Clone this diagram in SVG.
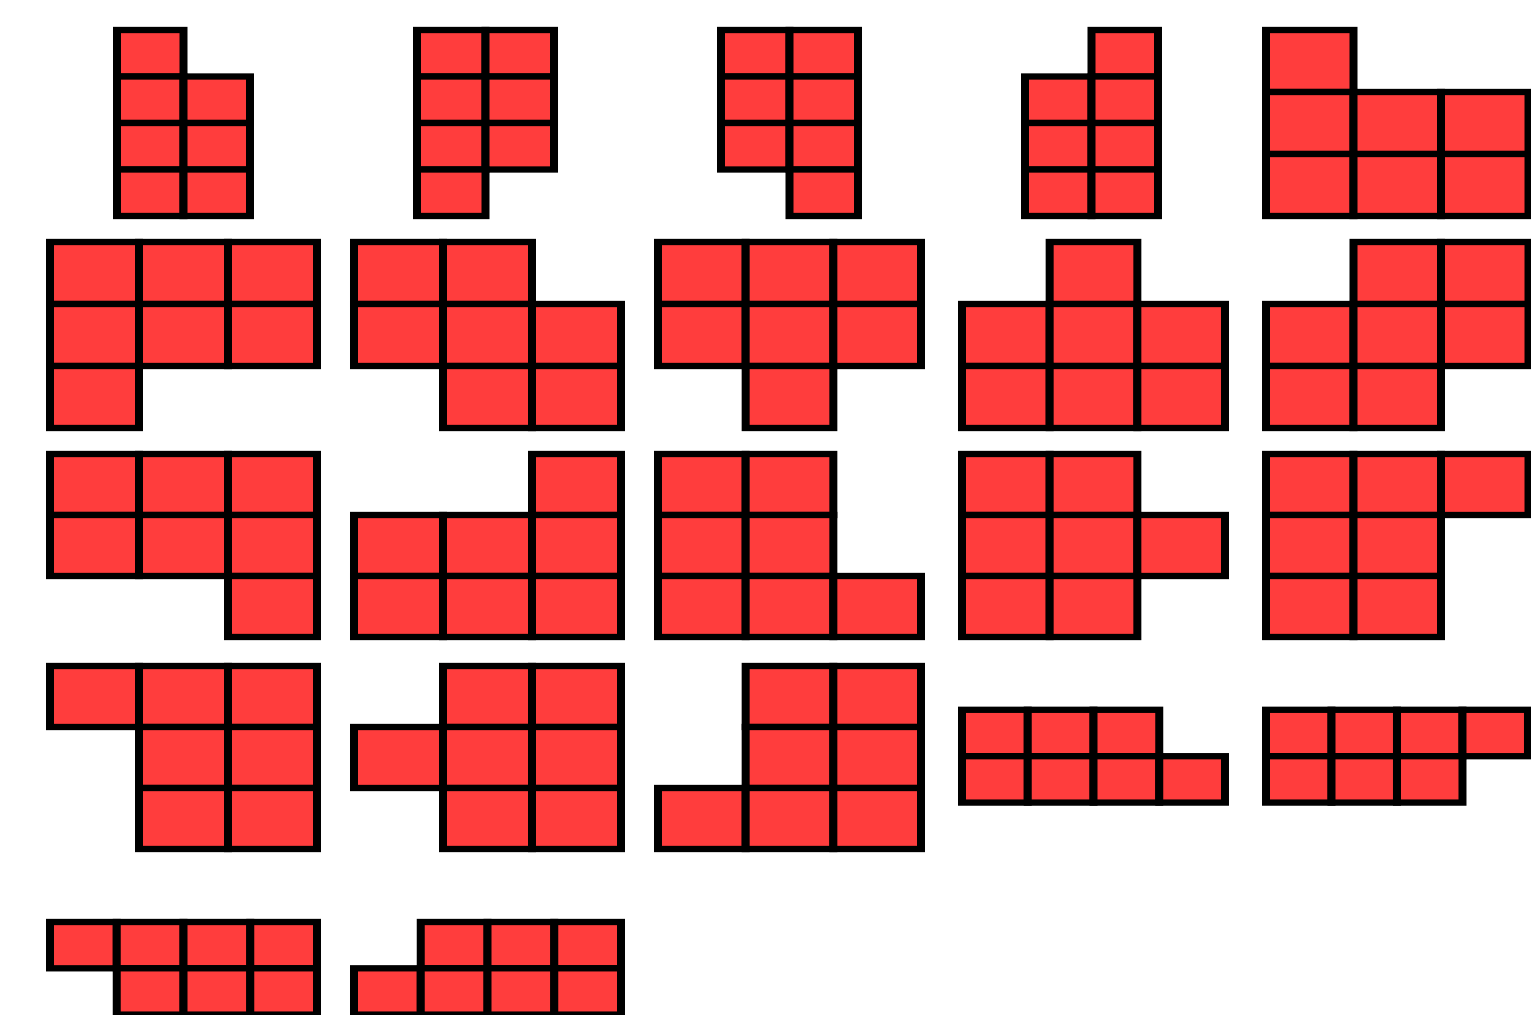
<svg xmlns="http://www.w3.org/2000/svg" width="1531" height="1015" viewBox="0 0 1531 1015">
<style>
rect.c{fill:#ff3d3d;stroke:#000;stroke-width:6.3}
</style>
<rect x="0" y="0" width="1531" height="1015" fill="#fff"/>
<!-- Row 1 -->
<g id="p1" transform="translate(117,30) scale(1.27,1)">
<rect class="c" x="0" y="0" width="52.36" height="46.5"/>
<rect class="c" x="0" y="46.5" width="52.36" height="46.5"/><rect class="c" x="52.36" y="46.5" width="52.36" height="46.5"/>
<rect class="c" x="0" y="93" width="52.36" height="46.5"/><rect class="c" x="52.36" y="93" width="52.36" height="46.5"/>
<rect class="c" x="0" y="139.5" width="52.36" height="46.5"/><rect class="c" x="52.36" y="139.5" width="52.36" height="46.5"/>
</g>
<g id="p2" transform="translate(417,30) scale(1.27,1)">
<rect class="c" x="0" y="0" width="53.94" height="46.5"/><rect class="c" x="53.94" y="0" width="53.94" height="46.5"/>
<rect class="c" x="0" y="46.5" width="53.94" height="46.5"/><rect class="c" x="53.94" y="46.5" width="53.94" height="46.5"/>
<rect class="c" x="0" y="93" width="53.94" height="46.5"/><rect class="c" x="53.94" y="93" width="53.94" height="46.5"/>
<rect class="c" x="0" y="139.5" width="53.94" height="46.5"/>
</g>
<g id="p3" transform="translate(721,30) scale(1.27,1)">
<rect class="c" x="0" y="0" width="53.94" height="46.5"/><rect class="c" x="53.94" y="0" width="53.94" height="46.5"/>
<rect class="c" x="0" y="46.5" width="53.94" height="46.5"/><rect class="c" x="53.94" y="46.5" width="53.94" height="46.5"/>
<rect class="c" x="0" y="93" width="53.94" height="46.5"/><rect class="c" x="53.94" y="93" width="53.94" height="46.5"/>
<rect class="c" x="53.94" y="139.5" width="53.94" height="46.5"/>
</g>
<g id="p4" transform="translate(1025,30) scale(1.27,1)">
<rect class="c" x="52.36" y="0" width="52.36" height="46.5"/>
<rect class="c" x="0" y="46.5" width="52.36" height="46.5"/><rect class="c" x="52.36" y="46.5" width="52.36" height="46.5"/>
<rect class="c" x="0" y="93" width="52.36" height="46.5"/><rect class="c" x="52.36" y="93" width="52.36" height="46.5"/>
<rect class="c" x="0" y="139.5" width="52.36" height="46.5"/><rect class="c" x="52.36" y="139.5" width="52.36" height="46.5"/>
</g>
<g id="p5" transform="translate(1266,30) scale(1.27,1)">
<rect class="c" x="0" y="0" width="68.9" height="62"/>
<rect class="c" x="0" y="62" width="68.9" height="62"/><rect class="c" x="68.9" y="62" width="68.9" height="62"/><rect class="c" x="137.8" y="62" width="68.9" height="62"/>
<rect class="c" x="0" y="124" width="68.9" height="62"/><rect class="c" x="68.9" y="124" width="68.9" height="62"/><rect class="c" x="137.8" y="124" width="68.9" height="62"/>
</g>
<!-- Row 2 -->
<g id="p6" transform="translate(50,242) scale(1.27,1)">
<rect class="c" x="0" y="0" width="70.08" height="62"/><rect class="c" x="70.08" y="0" width="70.08" height="62"/><rect class="c" x="140.16" y="0" width="70.08" height="62"/>
<rect class="c" x="0" y="62" width="70.08" height="62"/><rect class="c" x="70.08" y="62" width="70.08" height="62"/><rect class="c" x="140.16" y="62" width="70.08" height="62"/>
<rect class="c" x="0" y="124" width="70.08" height="62"/>
</g>
<g id="p7" transform="translate(354,242) scale(1.27,1)">
<rect class="c" x="0" y="0" width="70.08" height="62"/><rect class="c" x="70.08" y="0" width="70.08" height="62"/>
<rect class="c" x="0" y="62" width="70.08" height="62"/><rect class="c" x="70.08" y="62" width="70.08" height="62"/><rect class="c" x="140.16" y="62" width="70.08" height="62"/>
<rect class="c" x="70.08" y="124" width="70.08" height="62"/><rect class="c" x="140.16" y="124" width="70.08" height="62"/>
</g>
<g id="p8" transform="translate(658,242) scale(1.27,1)">
<rect class="c" x="0" y="0" width="69.03" height="62"/><rect class="c" x="69.03" y="0" width="69.03" height="62"/><rect class="c" x="138.06" y="0" width="69.03" height="62"/>
<rect class="c" x="0" y="62" width="69.03" height="62"/><rect class="c" x="69.03" y="62" width="69.03" height="62"/><rect class="c" x="138.06" y="62" width="69.03" height="62"/>
<rect class="c" x="69.03" y="124" width="69.03" height="62"/>
</g>
<g id="p9" transform="translate(962,242) scale(1.27,1)">
<rect class="c" x="69.03" y="0" width="69.03" height="62"/>
<rect class="c" x="0" y="62" width="69.03" height="62"/><rect class="c" x="69.03" y="62" width="69.03" height="62"/><rect class="c" x="138.06" y="62" width="69.03" height="62"/>
<rect class="c" x="0" y="124" width="69.03" height="62"/><rect class="c" x="69.03" y="124" width="69.03" height="62"/><rect class="c" x="138.06" y="124" width="69.03" height="62"/>
</g>
<g id="p10" transform="translate(1266,242) scale(1.27,1)">
<rect class="c" x="68.9" y="0" width="68.9" height="62"/><rect class="c" x="137.8" y="0" width="68.9" height="62"/>
<rect class="c" x="0" y="62" width="68.9" height="62"/><rect class="c" x="68.9" y="62" width="68.9" height="62"/><rect class="c" x="137.8" y="62" width="68.9" height="62"/>
<rect class="c" x="0" y="124" width="68.9" height="62"/><rect class="c" x="68.9" y="124" width="68.9" height="62"/>
</g>
<!-- Row 3 -->
<g id="p11" transform="translate(50,454) scale(1.27,1)">
<rect class="c" x="0" y="0" width="70.08" height="61"/><rect class="c" x="70.08" y="0" width="70.08" height="61"/><rect class="c" x="140.16" y="0" width="70.08" height="61"/>
<rect class="c" x="0" y="61" width="70.08" height="61"/><rect class="c" x="70.08" y="61" width="70.08" height="61"/><rect class="c" x="140.16" y="61" width="70.08" height="61"/>
<rect class="c" x="140.16" y="122" width="70.08" height="61"/>
</g>
<g id="p12" transform="translate(354,454) scale(1.27,1)">
<rect class="c" x="140.16" y="0" width="70.08" height="61"/>
<rect class="c" x="0" y="61" width="70.08" height="61"/><rect class="c" x="70.08" y="61" width="70.08" height="61"/><rect class="c" x="140.16" y="61" width="70.08" height="61"/>
<rect class="c" x="0" y="122" width="70.08" height="61"/><rect class="c" x="70.08" y="122" width="70.08" height="61"/><rect class="c" x="140.16" y="122" width="70.08" height="61"/>
</g>
<g id="p13" transform="translate(658,454) scale(1.27,1)">
<rect class="c" x="0" y="0" width="69.03" height="61"/><rect class="c" x="69.03" y="0" width="69.03" height="61"/>
<rect class="c" x="0" y="61" width="69.03" height="61"/><rect class="c" x="69.03" y="61" width="69.03" height="61"/>
<rect class="c" x="0" y="122" width="69.03" height="61"/><rect class="c" x="69.03" y="122" width="69.03" height="61"/><rect class="c" x="138.06" y="122" width="69.03" height="61"/>
</g>
<g id="p14" transform="translate(962,454) scale(1.27,1)">
<rect class="c" x="0" y="0" width="69.03" height="61"/><rect class="c" x="69.03" y="0" width="69.03" height="61"/>
<rect class="c" x="0" y="61" width="69.03" height="61"/><rect class="c" x="69.03" y="61" width="69.03" height="61"/><rect class="c" x="138.06" y="61" width="69.03" height="61"/>
<rect class="c" x="0" y="122" width="69.03" height="61"/><rect class="c" x="69.03" y="122" width="69.03" height="61"/>
</g>
<g id="p15" transform="translate(1266,454) scale(1.27,1)">
<rect class="c" x="0" y="0" width="68.9" height="61"/><rect class="c" x="68.9" y="0" width="68.9" height="61"/><rect class="c" x="137.8" y="0" width="68.9" height="61"/>
<rect class="c" x="0" y="61" width="68.9" height="61"/><rect class="c" x="68.9" y="61" width="68.9" height="61"/>
<rect class="c" x="0" y="122" width="68.9" height="61"/><rect class="c" x="68.9" y="122" width="68.9" height="61"/>
</g>
<!-- Row 4 -->
<g id="p16" transform="translate(50,666) scale(1.27,1)">
<rect class="c" x="0" y="0" width="70.08" height="61"/><rect class="c" x="70.08" y="0" width="70.08" height="61"/><rect class="c" x="140.16" y="0" width="70.08" height="61"/>
<rect class="c" x="70.08" y="61" width="70.08" height="61"/><rect class="c" x="140.16" y="61" width="70.08" height="61"/>
<rect class="c" x="70.08" y="122" width="70.08" height="61"/><rect class="c" x="140.16" y="122" width="70.08" height="61"/>
</g>
<g id="p17" transform="translate(354,666) scale(1.27,1)">
<rect class="c" x="70.08" y="0" width="70.08" height="61"/><rect class="c" x="140.16" y="0" width="70.08" height="61"/>
<rect class="c" x="0" y="61" width="70.08" height="61"/><rect class="c" x="70.08" y="61" width="70.08" height="61"/><rect class="c" x="140.16" y="61" width="70.08" height="61"/>
<rect class="c" x="70.08" y="122" width="70.08" height="61"/><rect class="c" x="140.16" y="122" width="70.08" height="61"/>
</g>
<g id="p18" transform="translate(658,666) scale(1.27,1)">
<rect class="c" x="69.03" y="0" width="69.03" height="61"/><rect class="c" x="138.06" y="0" width="69.03" height="61"/>
<rect class="c" x="69.03" y="61" width="69.03" height="61"/><rect class="c" x="138.06" y="61" width="69.03" height="61"/>
<rect class="c" x="0" y="122" width="69.03" height="61"/><rect class="c" x="69.03" y="122" width="69.03" height="61"/><rect class="c" x="138.06" y="122" width="69.03" height="61"/>
</g>
<g id="p19" transform="translate(962,709.8) scale(1.27,1)">
<rect class="c" x="0" y="0" width="51.77" height="46.4"/><rect class="c" x="51.77" y="0" width="51.77" height="46.4"/><rect class="c" x="103.54" y="0" width="51.77" height="46.4"/>
<rect class="c" x="0" y="46.4" width="51.77" height="46.4"/><rect class="c" x="51.77" y="46.4" width="51.77" height="46.4"/><rect class="c" x="103.54" y="46.4" width="51.77" height="46.4"/><rect class="c" x="155.31" y="46.4" width="51.77" height="46.4"/>
</g>
<g id="p20" transform="translate(1266,709.8) scale(1.27,1)">
<rect class="c" x="0" y="0" width="51.57" height="46.4"/><rect class="c" x="51.57" y="0" width="51.57" height="46.4"/><rect class="c" x="103.14" y="0" width="51.57" height="46.4"/><rect class="c" x="154.71" y="0" width="51.57" height="46.4"/>
<rect class="c" x="0" y="46.4" width="51.57" height="46.4"/><rect class="c" x="51.57" y="46.4" width="51.57" height="46.4"/><rect class="c" x="103.14" y="46.4" width="51.57" height="46.4"/>
</g>
<!-- Row 5 -->
<g id="p21" transform="translate(50,922) scale(1.27,1)">
<rect class="c" x="0" y="0" width="52.56" height="46.3"/><rect class="c" x="52.56" y="0" width="52.56" height="46.3"/><rect class="c" x="105.12" y="0" width="52.56" height="46.3"/><rect class="c" x="157.68" y="0" width="52.56" height="46.3"/>
<rect class="c" x="52.56" y="46.3" width="52.56" height="46.3"/><rect class="c" x="105.12" y="46.3" width="52.56" height="46.3"/><rect class="c" x="157.68" y="46.3" width="52.56" height="46.3"/>
</g>
<g id="p22" transform="translate(354,922) scale(1.27,1)">
<rect class="c" x="52.56" y="0" width="52.56" height="46.3"/><rect class="c" x="105.12" y="0" width="52.56" height="46.3"/><rect class="c" x="157.68" y="0" width="52.56" height="46.3"/>
<rect class="c" x="0" y="46.3" width="52.56" height="46.3"/><rect class="c" x="52.56" y="46.3" width="52.56" height="46.3"/><rect class="c" x="105.12" y="46.3" width="52.56" height="46.3"/><rect class="c" x="157.68" y="46.3" width="52.56" height="46.3"/>
</g>
<g id="connectors"/>
</svg>
